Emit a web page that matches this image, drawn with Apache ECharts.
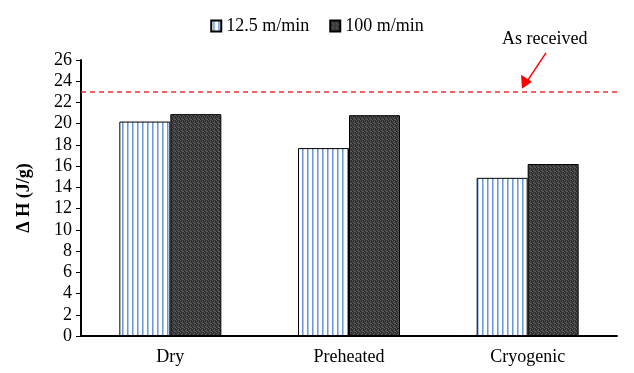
<!DOCTYPE html>
<html><head><meta charset="utf-8">
<script src="https://cdn.jsdelivr.net/npm/echarts@6/dist/echarts.min.js"></script>
<style>html,body{margin:0;padding:0;background:#fff}#c{width:634px;height:373px}</style>
</head><body><div id="c"></div>
<script>
const categories = ['Dry', 'Preheated', 'Cryogenic'];
const seriesNames = ['12.5 m/min', '100 m/min'];
const slowValues = [20.2, 17.7, 14.9];
const fastValues = [20.9, 20.8, 16.2];
const asReceived = 23;
const yTicks = {min: 0, max: 26, interval: 2};
const annotationText = 'As received';

function stripePattern() {
  const c = document.createElement('canvas');
  c.width = 5; c.height = 10;
  const x = c.getContext('2d');
  x.fillStyle = '#ffffff'; x.fillRect(0, 0, 5, 10);
  x.fillStyle = '#6b98d9'; x.fillRect(2, 0, 1, 10);
  x.fillStyle = '#aec8ec'; x.fillRect(3, 0, 1, 10);
  return c;
}
function dotPattern() {
  const c = document.createElement('canvas');
  c.width = 4; c.height = 4;
  const x = c.getContext('2d');
  x.fillStyle = '#363636'; x.fillRect(0, 0, 4, 4);
  x.fillStyle = '#5e5e5e';
  [[0,0],[2,1],[1,2],[3,3],[2,3]].forEach(p => x.fillRect(p[0], p[1], 1, 1));
  x.fillStyle = '#262626';
  [[1,0],[3,1],[0,3]].forEach(p => x.fillRect(p[0], p[1], 1, 1));
  return c;
}

const font = '"Liberation Serif", "Times New Roman", serif';
const chart = echarts.init(document.getElementById('c'), null, {renderer: 'canvas'});
const option = {
  animation: false,
  textStyle: {fontFamily: font},
  grid: {left: 81, right: 17, top: 60, bottom: 37},
  legend: {
    top: 12, left: 'center',
    itemWidth: 10, itemHeight: 11, itemGap: 20,
    icon: 'rect',
    textStyle: {fontFamily: font, fontSize: 18, color: '#000'},
    data: seriesNames
  },
  xAxis: {
    type: 'category', data: categories,
    axisLine: {lineStyle: {color: '#000', width: 2}},
    axisTick: {alignWithLabel: true, length: 5, lineStyle: {color: '#000', width: 1}},
    axisLabel: {fontFamily: font, fontSize: 18, color: '#000', margin: 12}
  },
  yAxis: {
    type: 'value', min: yTicks.min, max: yTicks.max, interval: yTicks.interval,
    name: 'Δ H (J/g)', nameLocation: 'middle', nameGap: 48,
    nameTextStyle: {fontFamily: font, fontSize: 18, fontWeight: 'bold', color: '#000'},
    axisLine: {show: true, lineStyle: {color: '#000', width: 2}},
    axisTick: {show: true, length: 5, lineStyle: {color: '#000'}},
    axisLabel: {fontFamily: font, fontSize: 18, color: '#000', margin: 9},
    splitLine: {show: false}
  },
  series: [
    {
      name: seriesNames[0], type: 'bar', data: slowValues,
      barWidth: 51, barGap: '0%',
      itemStyle: {color: {image: stripePattern(), repeat: 'repeat'}, borderColor: '#000', borderWidth: 1},
      markLine: {
        silent: true, symbol: 'none',
        lineStyle: {color: '#f03030', type: [5, 4], width: 1.5},
        label: {show: false},
        data: [{yAxis: asReceived}]
      }
    },
    {
      name: seriesNames[1], type: 'bar', data: fastValues,
      barWidth: 51,
      itemStyle: {color: {image: dotPattern(), repeat: 'repeat'}, borderColor: '#000', borderWidth: 1}
    }
  ]
};
chart.setOption(option);

const yLine = chart.convertToPixel({yAxisIndex: 0}, asReceived);
chart.setOption({
  graphic: [
    {type: 'text', left: 502, top: yLine - 62,
     style: {text: annotationText, fontFamily: font, fontSize: 18, fill: '#000'}},
    {type: 'line', shape: {x1: 546, y1: yLine - 39, x2: 528, y2: yLine - 12},
     style: {stroke: '#ff0000', lineWidth: 1.5}},
    {type: 'polygon', shape: {points: [[522, yLine - 3], [521, yLine - 17], [532, yLine - 10]]},
     style: {fill: '#ff0000'}}
  ]
});
</script></body></html>
